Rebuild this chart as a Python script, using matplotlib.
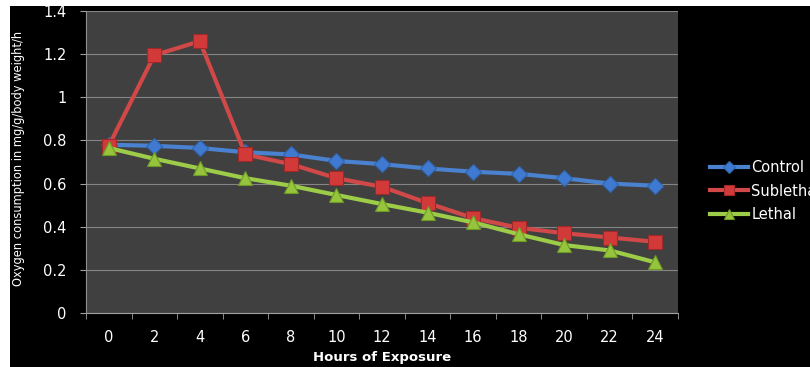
import numpy as np
import matplotlib.pyplot as plt
from matplotlib.patches import Rectangle

# data
hours = ["0", "2", "4", "6", "8", "10", "12", "14", "16", "18", "20", "22", "24"]
control = [0.78, 0.775, 0.765, 0.745, 0.735, 0.705, 0.69, 0.67, 0.655, 0.645, 0.625, 0.60, 0.59]
sublethal = [0.775, 1.195, 1.26, 0.735, 0.69, 0.625, 0.585, 0.51, 0.44, 0.395, 0.37, 0.35, 0.33]
lethal = [0.765, 0.715, 0.67, 0.625, 0.59, 0.547, 0.505, 0.465, 0.42, 0.365, 0.315, 0.29, 0.235]

W, H = 810, 367
fig = plt.figure(figsize=(W / 100, H / 100), dpi=100, facecolor="white")

# black background panel (white strip on top and left in the original)
fig.patches.append(Rectangle((10 / W, 0), 1 - 10 / W, 1 - 6 / H,
                             transform=fig.transFigure, facecolor="black",
                             edgecolor="none", zorder=-1))

ax = fig.add_axes([86 / W, 1 - 313 / H, (678 - 86) / W, (313 - 11) / H])
ax.set_facecolor("#404040")

x = np.arange(len(hours))

ax.plot(x, control, color="#4a82d0", lw=3, marker="D", ms=8,
        mfc="#3f7ad0", mec="#2f64b0", mew=0.8, label="Control", zorder=3)
ax.plot(x, sublethal, color="#d04848", lw=3, marker="s", ms=10,
        mfc="#d23a3a", mec="#a02828", mew=0.8, label="Sublethal", zorder=4)
ax.plot(x, lethal, color="#9ccc48", lw=3, marker="^", ms=10,
        mfc="#96c43c", mec="#6e9a28", mew=0.8, label="Lethal", zorder=5)

ax.set_xlim(-0.5, len(hours) - 0.5)
ax.set_ylim(0, 1.4)
ax.set_yticks([0, 0.2, 0.4, 0.6, 0.8, 1.0, 1.2, 1.4])
ax.set_yticklabels(["0", "0.2", "0.4", "0.6", "0.8", "1", "1.2", "1.4"])
ax.set_xticks(x)
ax.set_xticklabels(hours)
ax.set_xticks(np.arange(-0.5, len(hours)), minor=True)

ax.grid(True, axis="y", color="#858585", lw=0.8)
ax.set_axisbelow(True)

ax.tick_params(axis="x", which="major", length=0, pad=12, colors="white", labelsize=10.5)
ax.tick_params(axis="x", which="minor", length=4, color="#a0a0a0", direction="out")
ax.tick_params(axis="y", length=4, color="#a0a0a0", pad=10, colors="white", labelsize=10.5)
for lab in ax.get_yticklabels():
    lab.set_color("white")

for s in ["top", "right"]:
    ax.spines[s].set_visible(False)
ax.spines["left"].set_color("#909090")
ax.spines["bottom"].set_color("#a0a0a0")

fig.text(382 / W, 1 - 357 / H, "Hours of Exposure", color="white", fontsize=9.5,
         fontweight="bold", ha="center", va="center")
fig.text(19 / W, 1 - 158 / H, "Oxygen consumption in mg/g/body weight/h",
         rotation=90, color="white", fontsize=8.3, ha="center", va="center")

leg = ax.legend(loc="upper left", bbox_to_anchor=(704 / W, 1 - 154 / H),
                bbox_transform=fig.transFigure, frameon=False,
                fontsize=10.5, handlelength=2.6, handletextpad=0.25,
                labelspacing=0.6, markerscale=0.75, borderaxespad=0)
for t in leg.get_texts():
    t.set_color("white")

fig.savefig("out.png", dpi=100, facecolor=fig.get_facecolor())
